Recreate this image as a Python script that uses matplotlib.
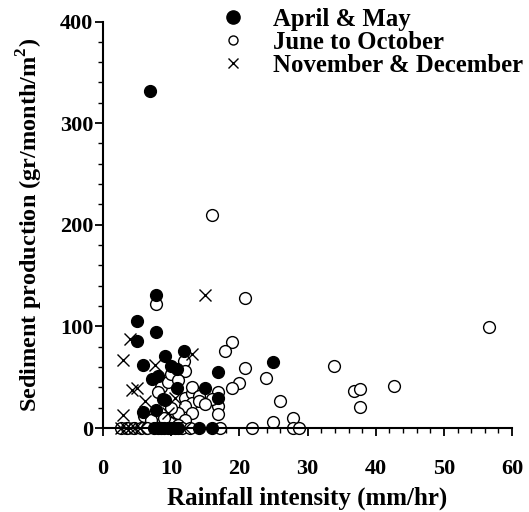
import numpy as np
import matplotlib
matplotlib.use("Agg")
import matplotlib.pyplot as plt
from matplotlib.ticker import MultipleLocator

plt.rcParams['font.family'] = ['Liberation Serif', 'DejaVu Serif']
plt.rcParams['font.weight'] = 'bold'
plt.rcParams['mathtext.fontset'] = 'custom'
plt.rcParams['mathtext.rm'] = 'Liberation Serif:bold'
plt.rcParams['mathtext.bf'] = 'Liberation Serif:bold'

# April & May (filled)
apr_x = [6.9, 7.8, 5.0, 7.8, 5.0, 9.1, 5.8, 7.1, 8.1, 9.9, 10.9, 11.9, 16.8, 24.9,
         14.9, 10.9, 8.8, 16.9, 7.8, 5.9, 9.1,
         7.5, 8.0, 8.5, 9.0, 9.5, 10.0, 10.5, 11.0, 14.0, 16.0]
apr_y = [332, 131, 105, 94, 86, 71, 62, 48, 51, 61, 58.5, 76, 55, 65,
         39, 39.5, 29, 30, 18, 16, 28,
         0, 0, 0, 0, 0, 0, 0, 0, 0, 0]

# June to October (open)
jun_x = [15.9, 20.8, 7.8, 56.6, 18.9, 17.9, 11.9, 20.8, 33.8, 23.9, 19.9, 18.9,
         36.8, 37.7, 42.7, 37.7, 25.9, 24.9, 27.8, 16.8, 16.8, 16.8, 15.9,
         12, 13, 13, 12, 11, 13, 12, 10, 11, 9, 10, 8.5, 9.5, 10, 12, 11, 13,
         14, 14, 15, 8, 6, 7,
         2.6, 3.5, 4.5, 5.5, 6.5, 11.5, 12.8, 17.2, 21.8, 27.8, 28.8]
jun_y = [210, 128, 122, 99, 85, 76, 66, 59, 61, 49, 44, 39,
         36, 38, 41.5, 21, 27, 6, 9.5, 35, 22, 14, 29,
         30, 34, 25, 22, 15, 15, 8, 5, 3, 10, 20, 40, 45, 53, 56, 47, 40,
         32, 27, 24, 35, 12, 8,
         0, 0, 0, 0, 0, 0, 0, 0, 0, 0, 0]

# November & December (cross)
nov_x = [15.0, 3.9, 2.9, 7.6, 13.0, 4.2, 4.9, 6.1, 2.9, 10.5, 9.5,
         2.6, 3.3, 4.0, 4.7, 5.4, 12.0]
nov_y = [131, 88, 67, 62, 73, 37, 39, 27, 13, 30, 15,
         0, 0, 0, 0, 0, 0]

fig = plt.figure(figsize=(5.29, 5.12), dpi=100)
ax = fig.add_axes([0.195, 0.164, 0.773, 0.794])

ax.plot(jun_x, jun_y, 'o', ms=8.5, mfc='white', mec='black', mew=1.0,
        clip_on=False, label='June to October', zorder=2)
ax.plot(apr_x, apr_y, 'o', ms=8.5, mfc='black', mec='black',
        clip_on=False, label='April & May', zorder=3)
ax.plot(nov_x, nov_y, 'x', ms=8, mec='black', mew=1.0,
        clip_on=False, label='November & December', zorder=4)

ax.set_xlim(0, 60)
ax.set_ylim(0, 400)
ax.xaxis.set_major_locator(MultipleLocator(10))
ax.xaxis.set_minor_locator(MultipleLocator(2))
ax.yaxis.set_major_locator(MultipleLocator(100))
ax.yaxis.set_minor_locator(MultipleLocator(20))
ax.spines['top'].set_visible(False)
ax.spines['right'].set_visible(False)
ax.spines['left'].set_linewidth(1.5)
ax.spines['bottom'].set_linewidth(1.5)
ax.tick_params(which='major', direction='out', length=6, width=1.3, labelsize=16)
ax.tick_params(which='minor', direction='out', length=3.5, width=1.0)
ax.tick_params(axis='x', which='major', pad=16)
ax.tick_params(axis='y', which='major', pad=1)
for lab in ax.get_xticklabels() + ax.get_yticklabels():
    lab.set_fontweight('bold')

ax.set_xlabel('Rainfall intensity (mm/hr)', fontsize=18, fontweight='bold', labelpad=6)
ax.set_ylabel('Sediment production (gr/month/m$^2$)', fontsize=17.5, fontweight='bold', labelpad=11)

h, l = ax.get_legend_handles_labels()
order = [1, 0, 2]
leg = ax.legend([h[i] for i in order], [l[i] for i in order], loc='upper left',
                bbox_to_anchor=(0.265, 1.058), frameon=False,
                handletextpad=1.12, labelspacing=0.0, handlelength=0.95,
                borderaxespad=0.0, prop={'weight': 'bold', 'size': 17.8})
hs = leg.legend_handles
hs[0].set_markersize(9.5)
hs[1].set_markersize(6.5)
hs[2].set_markersize(6.5)

fig.savefig('out.png', dpi=100)
